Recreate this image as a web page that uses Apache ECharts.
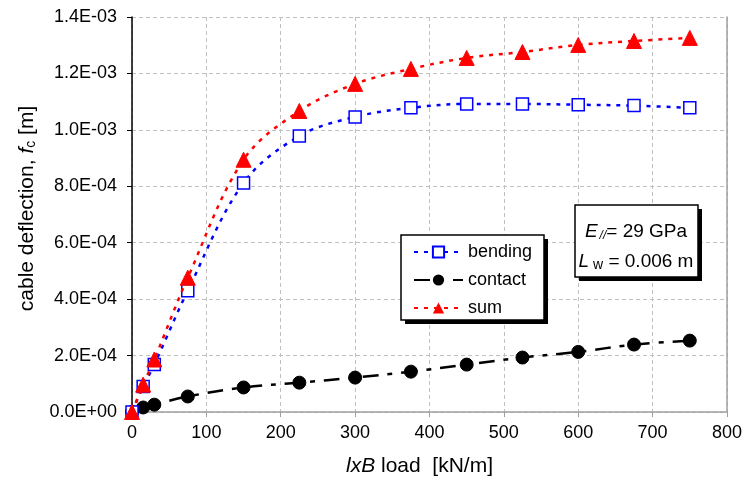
<!DOCTYPE html>
<html><head><meta charset="utf-8">
<script src="https://cdn.jsdelivr.net/npm/echarts@6/dist/echarts.min.js"></script>
<style>html,body{margin:0;padding:0;background:#fff}#c{width:745px;height:491px}</style>
</head><body><div id="c"></div>
<script>
const loads = [0, 15, 30, 75, 150, 225, 300, 375, 450, 525, 600, 675, 750];
const bending = [0, 9.0e-5, 1.68e-4, 4.3e-4, 8.12e-4, 9.78e-4, 1.046e-3, 1.078e-3, 1.092e-3, 1.092e-3, 1.089e-3, 1.086e-3, 1.078e-3];
const contact = [0, 1.6e-5, 2.6e-5, 5.5e-5, 8.7e-5, 1.04e-4, 1.22e-4, 1.43e-4, 1.68e-4, 1.93e-4, 2.13e-4, 2.39e-4, 2.53e-4];
const sum = [0, 9.7e-5, 1.86e-4, 4.76e-4, 8.94e-4, 1.067e-3, 1.163e-3, 1.216e-3, 1.255e-3, 1.276e-3, 1.301e-3, 1.315e-3, 1.326e-3];
const seriesNames = ['bending', 'contact', 'sum'];

function pairs(ys){ return loads.map((x,i)=>[x, ys[i]]); }
function sci(v){
  if (Math.abs(v) < 1e-12) return '0.0E+00';
  let s = v.toExponential(1);
  let [m, e] = s.split('e');
  let n = parseInt(e,10);
  let sign = n < 0 ? '-' : '+';
  let a = Math.abs(n);
  return m + 'E' + sign + (a < 10 ? '0' + a : a);
}
const FONT = '"Liberation Sans", Arial, sans-serif';
function boxWithShadow(x, y, w, h){
  return [
    {type: 'rect', z: 10, shape: {x: x+4, y: y+4, width: w, height: h}, style: {fill: '#000'}},
    {type: 'rect', z: 11, shape: {x: x, y: y, width: w, height: h}, style: {fill: '#fff', stroke: '#000', lineWidth: 1.5}}
  ];
}
const chart = echarts.init(document.getElementById('c'));
chart.setOption({
  animation: false,
  textStyle: {fontFamily: FONT},
  grid: {left: 132, right: 18, top: 17, bottom: 79},
  xAxis: {
    type: 'value', min: 0, max: 800, interval: 100,
    axisLine: {show: true, lineStyle: {color: '#a0a0a0', width: 1.5}},
    axisTick: {show: true, length: 5, lineStyle: {color: '#a0a0a0'}},
    axisLabel: {color: '#000', fontSize: 18, margin: 12, fontFamily: FONT},
    splitLine: {show: true, lineStyle: {color: '#c0c0c0', type: [4,3]}},
    name: '{i|lxB} load  [kN/m]', nameLocation: 'middle', nameGap: 44,
    nameTextStyle: {fontSize: 21, color: '#000', fontFamily: FONT, padding: [0, 20, 0, 0],
      rich: {i: {fontStyle: 'italic', fontSize: 21, fontFamily: FONT, color: '#000'}}}
  },
  yAxis: [{
    type: 'value', min: 0, max: 1.4e-3, interval: 2e-4,
    axisLine: {show: true, lineStyle: {color: '#000', width: 1.5}},
    axisTick: {show: true, inside: false, length: 5, lineStyle: {color: '#000'}},
    axisLabel: {color: '#000', fontSize: 18, margin: 15, formatter: sci, fontFamily: FONT},
    splitLine: {show: true, lineStyle: {color: '#c0c0c0', type: [4,3]}},
    name: '{a|cable deflection, }{i|f}{s|c}{a| [m]}', nameLocation: 'middle', nameGap: 94,
    nameTextStyle: {fontSize: 21, color: '#000', fontFamily: FONT, padding: [0, 0, 0, 12],
      rich: {
        a: {fontSize: 21, fontFamily: FONT, color: '#000'},
        i: {fontSize: 21, fontStyle: 'italic', fontFamily: FONT, color: '#000'},
        s: {fontSize: 14, fontFamily: FONT, color: '#000', padding: [7,0,0,0]}
      }}
  },{
    type: 'value', min: 0, max: 1.4e-3, position: 'right',
    axisLine: {show: true, lineStyle: {color: '#a0a0a0', width: 1.5}},
    axisTick: {show: false}, axisLabel: {show: false}, splitLine: {show: false}
  }],
  legend: {
    orient: 'vertical', left: 401, top: 236, z: 20,
    padding: [7, 10, 7, 12], itemGap: 10, itemWidth: 49, itemHeight: 14,
    textStyle: {fontSize: 18, color: '#000', fontFamily: FONT},
    data: seriesNames
  },
  series: [
    {name: seriesNames[0], type: 'line', smooth: 0.35, data: pairs(bending),
     symbol: 'rect', symbolSize: 12,
     itemStyle: {color: '#fff', borderColor: '#0000ff', borderWidth: 1.5},
     lineStyle: {color: '#0000ff', width: 2.5, type: [4,6]}, z: 3},
    {name: seriesNames[1], type: 'line', smooth: 0.35, data: pairs(contact),
     symbol: 'circle', symbolSize: 13,
     itemStyle: {color: '#000', borderColor: '#000'},
     lineStyle: {color: '#000', width: 2.5, type: [16,9,5,9]}, z: 2},
    {name: seriesNames[2], type: 'line', smooth: 0.35, data: pairs(sum),
     symbol: 'triangle', symbolSize: 15,
     itemStyle: {color: '#ff0000', borderColor: '#ff0000'},
     lineStyle: {color: '#ff0000', width: 2.5, type: [4,6]}, z: 4}
  ],
  graphic: [
    ...boxWithShadow(401, 235, 143, 85),
    ...boxWithShadow(575, 205, 123, 72),
    {type: 'text', z: 12, x: 636, y: 232, style: {
      text: '{i|E}{s|//}{a|= 29 GPa}', align: 'center', verticalAlign: 'middle',
      rich: {
        i: {fontSize: 19, fontStyle: 'italic', fontFamily: FONT, fill: '#000'},
        s: {fontSize: 12, fontStyle: 'italic', fontFamily: FONT, fill: '#000', padding: [7,0,0,2]},
        a: {fontSize: 19, fontFamily: FONT, fill: '#000'}
      }}},
    {type: 'text', z: 12, x: 636, y: 262, style: {
      text: '{i|L}{s| w}{a| = 0.006 m}', align: 'center', verticalAlign: 'middle',
      rich: {
        i: {fontSize: 19, fontStyle: 'italic', fontFamily: FONT, fill: '#000'},
        s: {fontSize: 14, fontFamily: FONT, fill: '#000', padding: [7,0,0,0]},
        a: {fontSize: 19, fontFamily: FONT, fill: '#000'}
      }}}
  ]
});
</script></body></html>
